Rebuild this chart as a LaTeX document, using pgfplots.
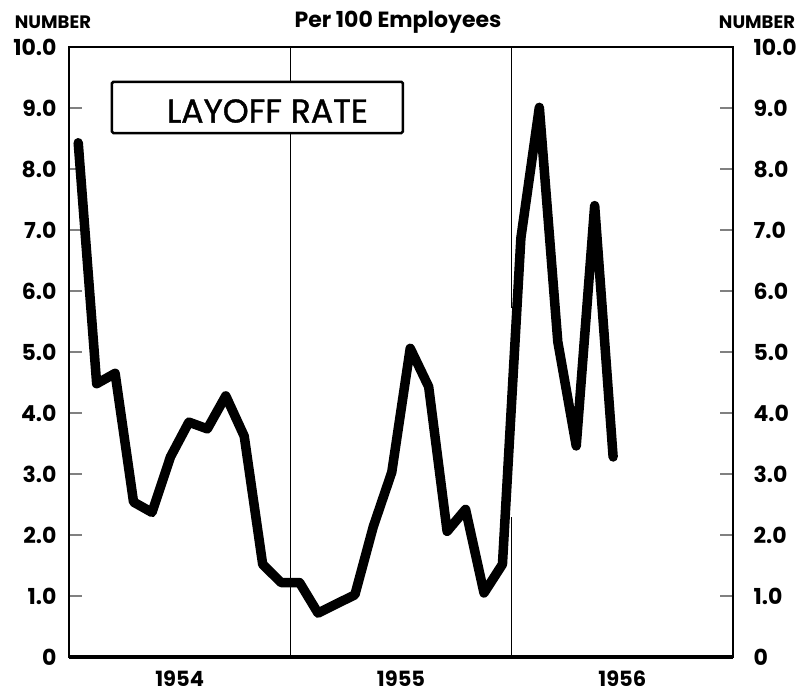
\documentclass[border=0pt]{standalone}
\usepackage{fontspec}
\setmainfont{Poppins}
\usepackage{pgfplots}
\pgfplotsset{compat=1.18}
\begin{document}
\begin{tikzpicture}
\useasboundingbox (-69pt,-39pt) rectangle (733pt,657pt);
\begin{axis}[
  at={(0,0)}, anchor=south west,
  scale only axis, width=664pt, height=610pt,
  xmin=0, xmax=36, ymin=0, ymax=10,
  axis line style={line width=1.6pt},
  xtick=\empty,
  minor xtick={1,2,3,4,5,6,7,8,9,10,11,13,14,15,16,17,18,19,20,21,22,23,25,26,27,28,29,30,31,32,33,34,35},
  minor tick length=7pt, xtick pos=bottom,
  minor tick style={line width=1.2pt},
  extra x ticks={6,18,30}, extra x tick labels={1954,1955,1956},
  extra x tick style={major tick length=0pt, tick label style={font=\bfseries\fontsize{21}{21}\selectfont, yshift=-10pt}},
  ytick={0,1,2,3,4,5,6,7,8,9,10},
  yticklabels={0,1.0,2.0,3.0,4.0,5.0,6.0,7.0,8.0,9.0,10.0},
  ytick pos=both, major tick length=13pt,
  major tick style={line width=1.2pt},
  yticklabel style={font=\bfseries\fontsize{22}{22}\selectfont, xshift=-9pt},
  clip=false,
]
\draw[line width=0.9pt] (axis cs:12,0) -- (axis cs:12,10);
\draw[line width=0.9pt] (axis cs:24,0) -- (axis cs:24,2.3);
\draw[line width=0.9pt] (axis cs:24,5.72) -- (axis cs:24,10);
\draw[line width=4pt] (axis cs:0,0) -- (axis cs:36,0);
\draw[line width=2.5pt, fill=white, rounded corners=1.5pt] (axis cs:2.33,9.43) rectangle (axis cs:18.1,8.59);
\node[font=\fontsize{33}{33}\selectfont\addfontfeature{FakeBold=1.2}, anchor=center] at (axis cs:10.76,8.95) {LAYOFF RATE};
\addplot[line width=9.5pt, line join=round, line cap=round] coordinates {
(0.5,8.43) (1.5,4.48) (2.5,4.65) (3.5,2.54) (4.5,2.37) (5.5,3.28)
(6.5,3.85) (7.5,3.74) (8.5,4.28) (9.5,3.62) (10.5,1.52) (11.5,1.22)
(12.5,1.22) (13.5,0.72) (14.5,0.87) (15.5,1.02) (16.5,2.14) (17.5,3.03)
(18.5,5.06) (19.5,4.43) (20.5,2.06) (21.5,2.42) (22.5,1.05) (23.5,1.52)
(24.5,6.87) (25.5,9.01) (26.5,5.17) (27.5,3.46) (28.5,7.40) (29.5,3.28)
};
\end{axis}
\foreach \k/\l in {0/0,1/1.0,2/2.0,3/3.0,4/4.0,5/5.0,6/6.0,7/7.0,8/8.0,9/9.0,10/10.0}
  \node[anchor=west, font=\bfseries\fontsize{22}{22}\selectfont] at (681pt,\k*61pt) {\l};
\node[font=\bfseries\fontsize{18}{18}\selectfont] at (-16pt,635pt) {NUMBER};
\node[font=\bfseries\fontsize{22}{22}\selectfont] at (329pt,635pt) {Per 100 Employees};
\node[font=\bfseries\fontsize{18}{18}\selectfont] at (688pt,635pt) {NUMBER};
\end{tikzpicture}
\end{document}
